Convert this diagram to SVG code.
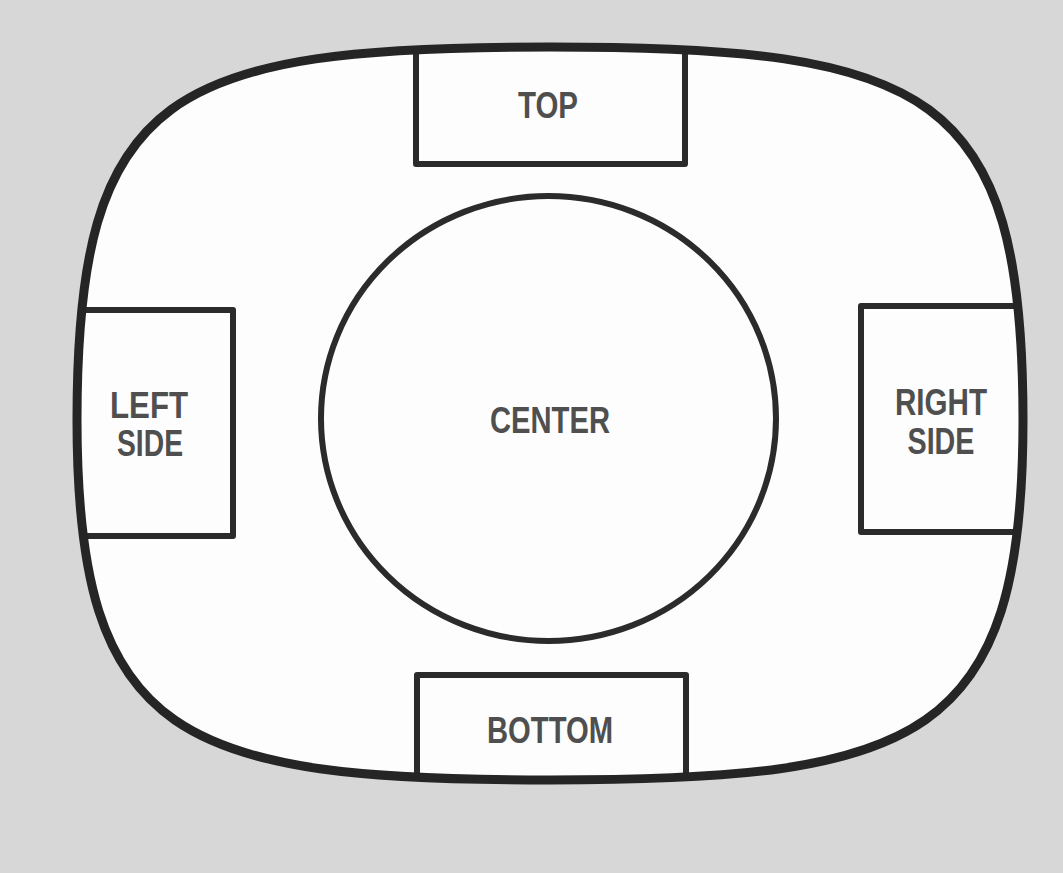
<svg xmlns="http://www.w3.org/2000/svg" width="1063" height="873" viewBox="0 0 1063 873">
  <style>
    .lbl { font-family: "Liberation Sans", Arial, sans-serif; font-weight: bold; font-size: 36px; fill: #4f4f4f; text-anchor: middle; }
    .box { fill: none; stroke: #2b2b2b; stroke-width: 6; stroke-linejoin: round; }
  </style>
  <defs>
    <path id="screen" d="M550,47 C930,47 1023,90 1023,420 C1023,740 920,780 550,780 C180,780 77,740 77,420 C77,90 170,47 550,47 Z"/>
    <clipPath id="inside"><use href="#screen"/></clipPath>
  </defs>
  <rect width="1063" height="873" fill="#d7d7d7"/>
  <use href="#screen" fill="#fdfdfd"/>
  <g id="top">
    <path class="box" clip-path="url(#inside)" d="M416,30 V164 H685 V30"/>
    <text class="lbl" x="548" y="118" textLength="60" lengthAdjust="spacingAndGlyphs">TOP</text>
  </g>
  <g id="bottom">
    <path class="box" clip-path="url(#inside)" d="M417,800 V675 H686 V800"/>
    <text class="lbl" x="550" y="743" textLength="126" lengthAdjust="spacingAndGlyphs">BOTTOM</text>
  </g>
  <g id="left-side">
    <path class="box" clip-path="url(#inside)" d="M50,310 H233 V536 H50"/>
    <text class="lbl" x="149" y="418" textLength="78" lengthAdjust="spacingAndGlyphs">LEFT</text>
    <text class="lbl" x="150" y="456" textLength="66" lengthAdjust="spacingAndGlyphs">SIDE</text>
  </g>
  <g id="right-side">
    <path class="box" clip-path="url(#inside)" d="M1050,306 H861 V532 H1050"/>
    <text class="lbl" x="941" y="415" textLength="92" lengthAdjust="spacingAndGlyphs">RIGHT</text>
    <text class="lbl" x="941" y="454" textLength="67" lengthAdjust="spacingAndGlyphs">SIDE</text>
  </g>
  <g id="center">
    <ellipse cx="548.5" cy="418.5" rx="227.5" ry="222.5" fill="none" stroke="#2b2b2b" stroke-width="6"/>
    <text class="lbl" x="550" y="433" textLength="120" lengthAdjust="spacingAndGlyphs">CENTER</text>
  </g>
  <g id="screen-outline">
    <use href="#screen" fill="none" stroke="#252525" stroke-width="9"/>
  </g>
  <g id="connectors"/>
</svg>
